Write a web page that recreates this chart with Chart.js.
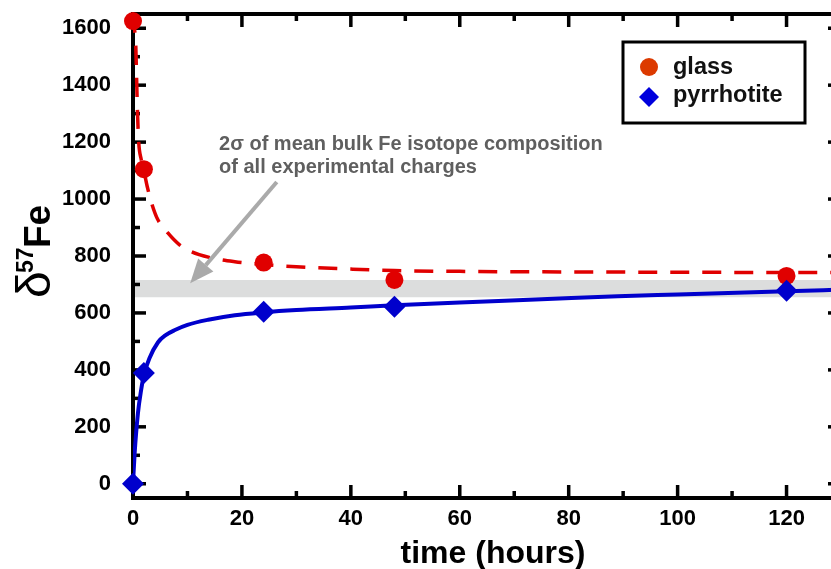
<!DOCTYPE html>
<html>
<head>
<meta charset="utf-8">
<script src="https://cdn.jsdelivr.net/npm/chart.js@4.4.1/dist/chart.umd.min.js"></script>
<style>
html, body { margin: 0; padding: 0; background: #fff; overflow: hidden; }
#wrap { width: 845px; height: 569px; }
</style>
</head>
<body>
<div id="wrap"><canvas id="chart" width="845" height="569"></canvas></div>
<script>
// measured points (time in hours)
const hours = [0, 2, 24, 48, 120];
const glass = [1625, 1105, 777, 716, 730];
const pyrrhotite = [0, 389, 604, 622, 678];

// fitted curves
const glassFitX = [0, 0.25, 0.5, 0.65, 0.8, 1.05, 1.5, 2, 2.6, 3.4, 4.5, 6.4, 8.5, 10.7, 14, 18.7, 24, 30, 40, 48, 60, 80, 100, 120, 130];
const glassFitY = [1650, 1600, 1545, 1435, 1320, 1200, 1140, 1100, 1045, 987, 930, 881, 840, 815, 795, 780, 770, 762, 754, 749, 746, 744, 743, 742, 742];
const pyrrFitX = [0, 0.3, 0.9, 1.5, 2, 3, 4.6, 6, 7.7, 10, 13.8, 18.7, 24, 30, 40, 48, 60, 75, 89, 100, 120, 130];
const pyrrFitY = [0, 107, 247, 330, 382, 440, 497, 522, 540, 558, 576, 592, 602, 610, 619, 627, 637, 648, 659, 665, 676, 682];

// 2 sigma band of mean bulk composition
const bandX = [0, 130];
const bandLow = 655;
const bandHigh = [716, 716];

const xTicks = [0, 20, 40, 60, 80, 100, 120];
const yTicks = [0, 200, 400, 600, 800, 1000, 1200, 1400, 1600];

const FONT = '"Liberation Sans", Arial, Helvetica, sans-serif';
const RED = '#e00000';
const BLUE = '#0000cc';

function pts(xs, ys) {
    return xs.map((v, i) => ({ x: v, y: ys[i] }));
}

function line(ctx, x1, y1, x2, y2) {
    ctx.beginPath();
    ctx.moveTo(x1, y1);
    ctx.lineTo(x2, y2);
    ctx.stroke();
}

function noPad(s) {
    s.paddingTop = 0;
    s.paddingBottom = 0;
    s.paddingLeft = 0;
    s.paddingRight = 0;
}

// box with inward ticks, drawn right after the grey band
const framePlugin = {
    id: 'frame',
    afterDatasetDraw(chart, args) {
        if (args.index !== 0) return;
        const ctx = chart.ctx;
        const a = chart.chartArea;
        const x = chart.scales.x;
        const y = chart.scales.y;
        ctx.save();
        ctx.strokeStyle = '#000';
        ctx.lineWidth = 3.5;
        for (let v = 0; v <= 130; v += 10) {
            const px = x.getPixelForValue(v);
            const len = v % 20 === 0 ? 13 : 7;
            line(ctx, px, a.bottom, px, a.bottom - len);
            line(ctx, px, a.top, px, a.top + len);
        }
        for (let v = 0; v <= 1600; v += 100) {
            const py = y.getPixelForValue(v);
            const len = v % 200 === 0 ? 13 : 7;
            line(ctx, a.left, py, a.left + len, py);
            line(ctx, a.right, py, a.right - len, py);
        }
        ctx.lineWidth = 4;
        ctx.strokeRect(a.left, a.top, a.right - a.left, a.bottom - a.top);
        ctx.restore();
    }
};

// axis titles, annotation, arrow and legend
const extrasPlugin = {
    id: 'extras',
    afterDraw(chart) {
        const ctx = chart.ctx;
        const x = chart.scales.x;
        const y = chart.scales.y;
        ctx.save();

        // x title
        ctx.fillStyle = '#000';
        ctx.font = 'bold 32px ' + FONT;
        ctx.textAlign = 'center';
        ctx.textBaseline = 'alphabetic';
        ctx.fillText('time (hours)', 493, 563);

        // y title: δ57Fe, rotated
        ctx.save();
        ctx.translate(50, 298);
        ctx.rotate(-Math.PI / 2);
        ctx.textAlign = 'left';
        ctx.font = '48px ' + FONT;
        ctx.fillText('δ', 0, 0);
        ctx.font = 'bold 23px ' + FONT;
        ctx.fillText('57', 25, -17);
        ctx.font = 'bold 37px ' + FONT;
        ctx.fillText('Fe', 50, 0);
        ctx.restore();

        // annotation text
        ctx.fillStyle = '#5f5f5f';
        ctx.font = 'bold 20px ' + FONT;
        ctx.textAlign = 'left';
        const tx = x.getPixelForValue(15.8);
        ctx.fillText('2σ of mean bulk Fe isotope composition', tx, y.getPixelForValue(1172));
        ctx.fillText('of all experimental charges', tx, y.getPixelForValue(1093));

        // arrow
        const x1 = x.getPixelForValue(26.4), y1 = y.getPixelForValue(1060);
        const x2 = x.getPixelForValue(10.5), y2 = y.getPixelForValue(704);
        const ang = Math.atan2(y2 - y1, x2 - x1);
        const head = 24, half = 10;
        const bx = x2 - head * Math.cos(ang), by = y2 - head * Math.sin(ang);
        ctx.strokeStyle = '#aaaaaa';
        ctx.fillStyle = '#aaaaaa';
        ctx.lineWidth = 4;
        line(ctx, x1, y1, bx, by);
        ctx.beginPath();
        ctx.moveTo(x2, y2);
        ctx.lineTo(bx + half * Math.sin(ang), by - half * Math.cos(ang));
        ctx.lineTo(bx - half * Math.sin(ang), by + half * Math.cos(ang));
        ctx.closePath();
        ctx.fill();

        // legend
        ctx.fillStyle = '#fff';
        ctx.fillRect(623, 42, 182, 81);
        ctx.strokeStyle = '#000';
        ctx.lineWidth = 3;
        ctx.strokeRect(623, 42, 182, 81);
        ctx.fillStyle = '#dc3a00';
        ctx.beginPath();
        ctx.arc(649, 67, 9, 0, Math.PI * 2);
        ctx.fill();
        ctx.fillStyle = '#0000dd';
        ctx.beginPath();
        ctx.moveTo(649, 87);
        ctx.lineTo(659, 97);
        ctx.lineTo(649, 107);
        ctx.lineTo(639, 97);
        ctx.closePath();
        ctx.fill();
        ctx.fillStyle = '#111';
        ctx.font = 'bold 23.5px ' + FONT;
        ctx.fillText('glass', 673, 74);
        ctx.fillText('pyrrhotite', 673, 102);

        ctx.restore();
    }
};

const tickFont = { family: FONT, size: 22, weight: 'bold' };

new Chart(document.getElementById('chart'), {
    type: 'scatter',
    data: {
        datasets: [
            {
                label: 'band',
                type: 'line',
                data: pts(bandX, bandHigh),
                borderColor: 'transparent',
                borderWidth: 0,
                pointRadius: 0,
                backgroundColor: '#dcdddd',
                fill: { value: bandLow },
                order: 9
            },
            {
                label: 'glass fit',
                type: 'line',
                data: pts(glassFitX, glassFitY),
                borderColor: RED,
                borderWidth: 3.5,
                borderDash: [19, 13],
                cubicInterpolationMode: 'monotone',
                pointRadius: 0,
                fill: false,
                order: 4
            },
            {
                label: 'pyrrhotite fit',
                type: 'line',
                data: pts(pyrrFitX, pyrrFitY),
                borderColor: BLUE,
                borderWidth: 4,
                cubicInterpolationMode: 'monotone',
                pointRadius: 0,
                fill: false,
                order: 3
            },
            {
                label: 'glass',
                data: pts(hours, glass),
                pointStyle: 'circle',
                pointRadius: 9,
                backgroundColor: RED,
                borderColor: RED,
                borderWidth: 0,
                clip: false,
                order: 1
            },
            {
                label: 'pyrrhotite',
                data: pts(hours, pyrrhotite),
                pointStyle: 'rectRot',
                pointRadius: 11,
                backgroundColor: BLUE,
                borderColor: BLUE,
                borderWidth: 0,
                clip: false,
                order: 0
            }
        ]
    },
    options: {
        responsive: false,
        animation: false,
        events: [],
        layout: { autoPadding: false, padding: { left: 0, top: 14, right: 4, bottom: 0 } },
        plugins: {
            legend: { display: false },
            tooltip: { enabled: false },
            title: { display: false }
        },
        scales: {
            x: {
                type: 'linear',
                min: 0,
                max: 130,
                grid: { display: false, drawTicks: false },
                border: { display: false },
                ticks: { font: tickFont, color: '#000', padding: 8, maxRotation: 0, callback: (v) => String(v) },
                afterBuildTicks: (s) => { s.ticks = xTicks.map(v => ({ value: v })); },
                afterFit: (s) => { s.height = 71; noPad(s); }
            },
            y: {
                type: 'linear',
                min: -50,
                max: 1650,
                grid: { display: false, drawTicks: false },
                border: { display: false },
                ticks: { font: tickFont, color: '#000', padding: 22, callback: (v) => String(v) },
                afterBuildTicks: (s) => { s.ticks = yTicks.map(v => ({ value: v })); },
                afterFit: (s) => { s.width = 133; noPad(s); }
            }
        }
    },
    plugins: [framePlugin, extrasPlugin]
});
</script>
</body>
</html>
